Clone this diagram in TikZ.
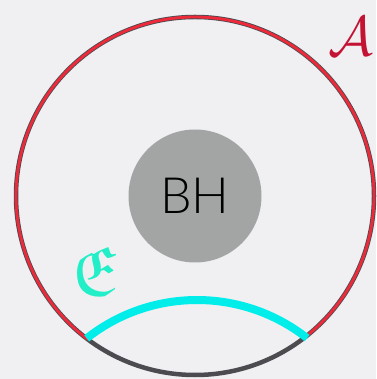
\documentclass[tikz,border=0pt]{standalone}
\usepackage{amssymb}
\usepackage{fontspec}
\newfontfamily\bhfont{Lato Light}
\definecolor{bgcol}{HTML}{F0F0F3}
\definecolor{ringgray}{HTML}{4B4B50}
\definecolor{ringred}{HTML}{EE2A3A}
\definecolor{bhgray}{HTML}{A2A5A4}
\definecolor{labred}{HTML}{C41232}
\definecolor{arccyan}{HTML}{00EDEA}
\definecolor{labcyan}{HTML}{22EEC8}
\begin{document}
\begin{tikzpicture}[x=1pt,y=1pt]
\useasboundingbox(0,0)rectangle(376,379);
\fill[bgcol](0,0)rectangle(376,379);
\coordinate(o)at(195,183);\coordinate(c)at(197,-99);
\draw[ringgray,line width=4.5pt](o)circle(179);
\draw[ringred,line width=2.8pt]([shift={(-51.7:179)}]o)arc(-51.7:233.4:179);
\draw[arccyan,line width=8pt]([shift={(51.8:178)}]c)arc(51.8:128.3:178);
\node[circle,fill=bhgray,minimum size=133,inner sep=0](bh)at(o){\bhfont\fontsize{50}{50}\selectfont BH};
\node[text=labred,scale=5.6,inner sep=0](lA)at(351,343){$\mathcal{A}$};
\node[text=labcyan,scale=7,inner sep=0](lE)at(95,108){$\mathfrak{E}$};
\end{tikzpicture}
\end{document}
